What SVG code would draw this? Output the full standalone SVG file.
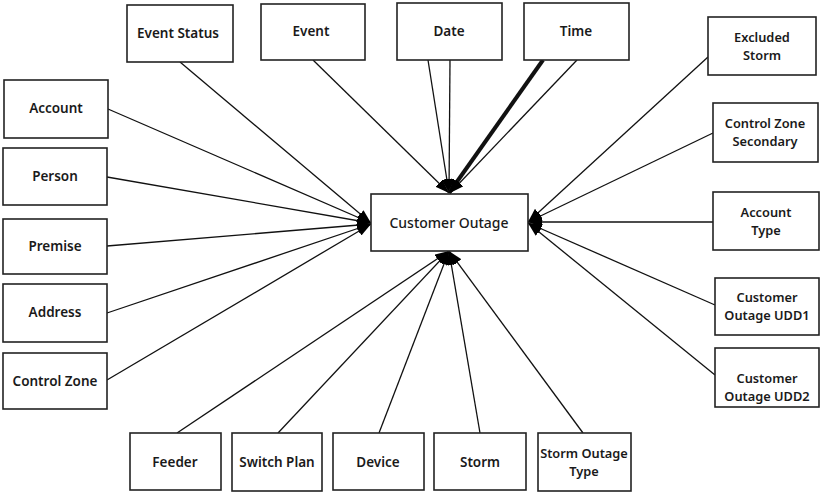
<svg xmlns="http://www.w3.org/2000/svg" width="821" height="493" viewBox="0 0 821 493">
<style>
.box{fill:#fff;stroke:#222;stroke-width:1.6}
.t{font-family:"Noto Sans","DejaVu Sans",sans-serif;font-size:13.5px;font-weight:600;fill:#1a1a1a;text-anchor:middle;dominant-baseline:central}
.t2{font-family:"Noto Sans","DejaVu Sans",sans-serif;font-size:12.8px;font-weight:600;fill:#1a1a1a;text-anchor:middle;dominant-baseline:central}
.c{font-family:"Noto Sans","DejaVu Sans",sans-serif;font-size:14px;font-weight:500;fill:#1a1a1a;text-anchor:middle;dominant-baseline:central}
.ln{stroke:#111;stroke-width:1.3;fill:none;marker-end:url(#ah)}
</style>
<defs>
<marker id="ah" viewBox="0 0 14 10" refX="14" refY="5" markerWidth="14" markerHeight="10" markerUnits="userSpaceOnUse" orient="auto">
<path d="M0,0 L14,5 L0,10 Z" fill="#000"/>
</marker>
</defs>
<rect width="821" height="493" fill="#fff"/>
<g id="connectors">
<line class="ln" x1="180" y1="62" x2="371" y2="223"/>
<line class="ln" x1="313" y1="60" x2="449" y2="193"/>
<line class="ln" x1="428" y1="60" x2="449" y2="193"/>
<line class="ln" x1="450" y1="60" x2="449" y2="193"/>
<line class="ln" x1="543" y1="60" x2="449" y2="193" style="stroke-width:4"/>
<line class="ln" x1="577" y1="60" x2="450" y2="193"/>
<line class="ln" x1="108" y1="109" x2="371" y2="223"/>
<line class="ln" x1="107" y1="177" x2="371" y2="223"/>
<line class="ln" x1="107" y1="246" x2="371" y2="224"/>
<line class="ln" x1="107" y1="313" x2="371" y2="224"/>
<line class="ln" x1="107" y1="380" x2="371" y2="224"/>
<line class="ln" x1="708" y1="57" x2="528" y2="222"/>
<line class="ln" x1="713" y1="133" x2="528" y2="222"/>
<line class="ln" x1="713" y1="222" x2="528" y2="222"/>
<line class="ln" x1="715" y1="305" x2="528" y2="223"/>
<line class="ln" x1="715" y1="375" x2="528" y2="223"/>
<line class="ln" x1="177" y1="433" x2="449" y2="251"/>
<line class="ln" x1="278" y1="433" x2="449" y2="251"/>
<line class="ln" x1="379" y1="433" x2="449" y2="251"/>
<line class="ln" x1="480" y1="433" x2="449" y2="251"/>
<line class="ln" x1="583" y1="433" x2="449" y2="251"/>
</g>
<g id="customer-outage"><rect class="box" x="371" y="194" width="157" height="57"/><text class="c" x="449" y="222">Customer Outage</text></g>
<g id="event-status"><rect class="box" x="127" y="5" width="106" height="57"/><text class="t" x="178" y="33">Event Status</text></g>
<g id="event"><rect class="box" x="261" y="4" width="104" height="56"/><text class="t" x="311" y="31">Event</text></g>
<g id="date"><rect class="box" x="397" y="3" width="105" height="57"/><text class="t" x="449" y="31">Date</text></g>
<g id="time"><rect class="box" x="524" y="3" width="105" height="57"/><text class="t" x="576" y="31">Time</text></g>
<g id="account"><rect class="box" x="4" y="80" width="104" height="58"/><text class="t" x="56" y="108">Account</text></g>
<g id="person"><rect class="box" x="3" y="148" width="104" height="57"/><text class="t" x="55" y="176">Person</text></g>
<g id="premise"><rect class="box" x="3" y="219" width="104" height="55"/><text class="t" x="55" y="246">Premise</text></g>
<g id="address"><rect class="box" x="3" y="284" width="104" height="58"/><text class="t" x="55" y="312">Address</text></g>
<g id="control-zone"><rect class="box" x="3" y="353" width="104" height="56"/><text class="t" x="55" y="381">Control Zone</text></g>
<g id="excluded-storm"><rect class="box" x="708" y="17" width="108" height="58"/><text class="t2" x="762" y="37">Excluded</text><text class="t2" x="762" y="55">Storm</text></g>
<g id="control-zone-secondary"><rect class="box" x="713" y="103" width="105" height="59"/><text class="t2" x="765" y="123">Control  Zone</text><text class="t2" x="765" y="141">Secondary</text></g>
<g id="account-type"><rect class="box" x="713" y="192" width="106" height="58"/><text class="t2" x="766" y="212">Account</text><text class="t2" x="766" y="230">Type</text></g>
<g id="customer-outage-udd1"><rect class="box" x="715" y="278" width="104" height="57"/><text class="t2" x="767" y="297">Customer</text><text class="t2" x="767" y="315">Outage UDD1</text></g>
<g id="customer-outage-udd2"><rect class="box" x="715" y="348" width="104" height="59"/><text class="t2" x="767" y="378">Customer</text><text class="t2" x="767" y="396">Outage UDD2</text></g>
<g id="feeder"><rect class="box" x="130" y="433" width="91" height="57"/><text class="t" x="175" y="462">Feeder</text></g>
<g id="switch-plan"><rect class="box" x="232" y="433" width="90" height="58"/><text class="t" x="277" y="462">Switch Plan</text></g>
<g id="device"><rect class="box" x="333" y="433" width="91" height="57"/><text class="t" x="378" y="462">Device</text></g>
<g id="storm"><rect class="box" x="434" y="433" width="92" height="57"/><text class="t" x="480" y="462">Storm</text></g>
<g id="storm-outage-type"><rect class="box" x="538" y="433" width="93" height="58"/><text class="t2" x="584" y="453">Storm Outage</text><text class="t2" x="584" y="471">Type</text></g>
</svg>
